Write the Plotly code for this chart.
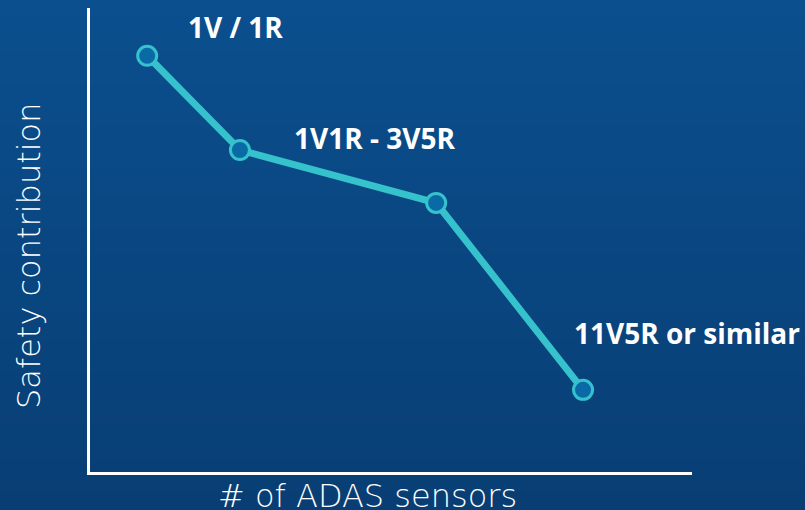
import plotly.graph_objects as go

# Data (arbitrary units)
sensor_level = [0.95, 2.49, 5.75, 8.19]
safety_contribution = [8.97, 6.94, 5.80, 1.77]
point_labels = ["1V / 1R", "1V1R - 3V5R", "", "11V5R or similar"]
label_x = [2.41, 4.73, None, 8.0]
label_y = [9.59, 7.19, None, 3.0]
label_anchor = ["center", "center", None, "left"]
x_title = "# of ADAS sensors"
y_title = "Safety contribution"

W, H = 805, 510
L, R, T, B = 90, 113, 8, 38

fig = go.Figure()

fig.add_trace(go.Scatter(
    x=sensor_level, y=safety_contribution, mode="lines+markers",
    line=dict(color="#36C2CD", width=7),
    marker=dict(size=19, color="#0A6AA6", line=dict(color="#36C2CD", width=3)),
    hoverinfo="skip", showlegend=False,
))

# background gradient strips
top = (11, 79, 142)
bot = (8, 62, 116)
n = 60
y_lo = -B / (H - T - B)
y_hi = 1 + T / (H - T - B)
shapes = []
for i in range(n):
    f = i / (n - 1)
    c = tuple(round(top[k] + (bot[k] - top[k]) * f) for k in range(3))
    y1 = y_hi - (y_hi - y_lo) * i / n
    y0 = y_hi - (y_hi - y_lo) * (i + 1) / n
    shapes.append(dict(type="rect", xref="paper", yref="paper",
                       x0=-0.5, x1=1.5, y0=y0 - 0.002, y1=y1 + 0.002,
                       fillcolor="rgb(%d,%d,%d)" % c, line=dict(width=0),
                       layer="below"))

annotations = []
for t, xx, yy, anc in zip(point_labels, label_x, label_y, label_anchor):
    if not t:
        continue
    annotations.append(dict(x=xx, y=yy, xref="x", yref="y", text="<b>%s</b>" % t,
                            showarrow=False, xanchor=anc, yanchor="middle",
                            font=dict(family="Open Sans", size=28, color="white")))

title_font = dict(family="DejaVu Sans ExtraLight, DejaVu Sans", size=32, color="white", weight=200)
# axis titles placed as annotations (positions relative to the plot area)
annotations.append(dict(x=(367 - L) / (W - L - R), y=-(496 - (H - B)) / (H - T - B),
                        xref="paper", yref="paper", text=x_title, showarrow=False,
                        xanchor="center", yanchor="middle", font=title_font))
annotations.append(dict(x=-(L - 29) / (W - L - R), y=((H - B) - 256) / (H - T - B),
                        xref="paper", yref="paper", text=y_title, showarrow=False,
                        textangle=-90, xanchor="center", yanchor="middle", font=title_font))

fig.update_layout(
    width=W, height=H,
    margin=dict(l=L, r=R, t=T, b=B),
    paper_bgcolor="rgb(9,70,128)", plot_bgcolor="rgba(0,0,0,0)",
    shapes=shapes, annotations=annotations,
    xaxis=dict(range=[0, 10], showgrid=False, zeroline=False, showticklabels=False,
               ticks="", showline=True, linecolor="white", linewidth=3),
    yaxis=dict(range=[0, 10], showgrid=False, zeroline=False, showticklabels=False,
               ticks="", showline=True, linecolor="white", linewidth=3),
)

fig.write_html("out.html", config={"displayModeBar": False},
               post_script="document.body.style.margin='0';document.body.style.overflow='hidden';")
